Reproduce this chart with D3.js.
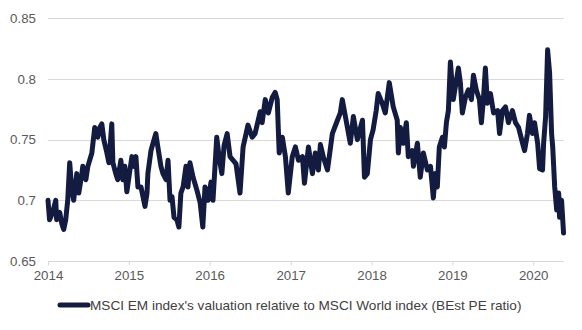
<!DOCTYPE html>
<html>
<head>
<meta charset="utf-8">
<script src="https://cdn.jsdelivr.net/npm/d3@7"></script>
<style>
  html, body { margin: 0; padding: 0; background: #ffffff; }
  svg { display: block; font-family: "Liberation Sans", Arial, sans-serif; }
</style>
</head>
<body>
<svg id="chart" width="582" height="330"></svg>
<script>
const seriesName = "MSCI EM index's valuation relative to MSCI World index (BEst PE ratio)";
const dates = [
  "2014-01-01","2014-01-08","2014-01-22","2014-02-05","2014-02-09","2014-02-23","2014-03-04","2014-03-13","2014-03-22","2014-03-31",
  "2014-04-09","2014-04-18","2014-04-27","2014-05-11","2014-05-20","2014-06-03","2014-06-07","2014-06-21","2014-06-30","2014-07-18",
  "2014-07-31","2014-08-14","2014-08-23","2014-09-01","2014-09-10","2014-09-24","2014-10-03","2014-10-16","2014-10-21","2014-11-03",
  "2014-11-12","2014-11-26","2014-12-05","2014-12-14","2014-12-23","2015-01-06","2015-01-15","2015-01-24","2015-02-02","2015-02-11",
  "2015-02-25","2015-03-06","2015-03-15","2015-03-24","2015-03-28","2015-04-11","2015-04-20","2015-05-03","2015-05-12","2015-05-26",
  "2015-06-04","2015-06-18","2015-06-27","2015-07-06","2015-07-15","2015-07-24","2015-08-06","2015-08-15","2015-08-24","2015-09-03",
  "2015-09-16","2015-09-25","2015-10-04","2015-10-18","2015-11-05","2015-11-19","2015-12-01","2015-12-11","2015-12-25","2016-01-07",
  "2016-01-16","2016-02-02","2016-02-13","2016-02-25","2016-03-06","2016-03-20","2016-04-02","2016-04-16","2016-04-29","2016-05-17",
  "2016-05-31","2016-06-22","2016-07-11","2016-07-24","2016-08-16","2016-08-25","2016-09-08","2016-09-22","2016-10-10","2016-10-23",
  "2016-11-01","2016-11-10","2016-11-24","2016-12-08","2016-12-21","2017-01-08","2017-01-22","2017-02-05","2017-02-23","2017-03-04",
  "2017-03-22","2017-04-09","2017-04-22","2017-05-06","2017-05-15","2017-05-28","2017-06-16","2017-07-08","2017-07-31","2017-08-13",
  "2017-08-22","2017-09-05","2017-09-27","2017-10-11","2017-10-29","2017-11-12","2017-11-21","2017-11-30","2017-12-13","2017-12-27",
  "2018-01-08","2018-01-22","2018-01-31","2018-02-18","2018-03-04","2018-03-22","2018-04-09","2018-04-27","2018-05-02","2018-05-11",
  "2018-05-24","2018-06-07","2018-06-16","2018-07-04","2018-07-09","2018-07-27","2018-08-09","2018-08-23","2018-09-10","2018-09-24",
  "2018-10-07","2018-10-16","2018-10-25","2018-11-03","2018-11-17","2018-11-26","2018-12-05","2018-12-14","2018-12-23","2019-01-05",
  "2019-01-14","2019-01-28","2019-02-06","2019-02-15","2019-03-01","2019-03-14","2019-03-28","2019-04-06","2019-04-19","2019-05-03",
  "2019-05-12","2019-05-21","2019-05-30","2019-06-08","2019-06-22","2019-07-06","2019-07-24","2019-08-02","2019-08-15","2019-08-29",
  "2019-09-11","2019-09-29","2019-10-13","2019-10-27","2019-11-14","2019-11-23","2019-12-06","2019-12-15","2019-12-29","2020-01-07",
  "2020-01-21","2020-01-30","2020-02-12","2020-02-17","2020-02-26","2020-03-06","2020-03-15","2020-03-24","2020-03-29","2020-04-07",
  "2020-04-16","2020-04-25","2020-04-29","2020-05-08","2020-05-17"
];
const values = [
  0.700,0.684,0.690,0.700,0.684,0.690,0.681,0.676,0.684,0.700,
  0.731,0.709,0.700,0.722,0.706,0.722,0.728,0.717,0.728,0.739,
  0.760,0.752,0.760,0.763,0.750,0.739,0.731,0.763,0.731,0.722,
  0.717,0.733,0.717,0.728,0.707,0.725,0.736,0.728,0.736,0.711,
  0.711,0.703,0.695,0.706,0.722,0.741,0.747,0.755,0.744,0.728,
  0.722,0.717,0.733,0.700,0.703,0.686,0.684,0.678,0.706,0.711,
  0.728,0.711,0.731,0.719,0.708,0.698,0.678,0.711,0.700,0.715,
  0.700,0.752,0.735,0.722,0.745,0.755,0.736,0.733,0.730,0.706,
  0.744,0.762,0.752,0.755,0.773,0.764,0.783,0.772,0.785,0.789,
  0.783,0.739,0.752,0.736,0.706,0.736,0.744,0.733,0.736,0.714,
  0.744,0.722,0.739,0.725,0.746,0.736,0.725,0.755,0.766,0.772,
  0.783,0.769,0.747,0.769,0.750,0.760,0.766,0.719,0.722,0.750,
  0.758,0.774,0.788,0.780,0.772,0.797,0.777,0.766,0.739,0.760,
  0.747,0.764,0.736,0.741,0.728,0.747,0.719,0.739,0.725,0.728,
  0.702,0.722,0.711,0.744,0.752,0.744,0.764,0.774,0.814,0.783,
  0.793,0.809,0.797,0.772,0.785,0.791,0.783,0.803,0.791,0.783,
  0.764,0.783,0.809,0.780,0.788,0.772,0.774,0.755,0.774,0.777,
  0.764,0.774,0.764,0.760,0.747,0.741,0.755,0.770,0.755,0.764,
  0.747,0.726,0.725,0.747,0.769,0.824,0.805,0.755,0.744,0.711,
  0.692,0.706,0.686,0.700,0.673
];
const yTicks = [0.65, 0.7, 0.75, 0.8, 0.85];
const yTickLabels = ["0.65", "0.7", "0.75", "0.8", "0.85"];
const xTickYears = ["2014", "2015", "2016", "2017", "2018", "2019", "2020"];

const parse = d3.timeParse("%Y-%m-%d");
const data = dates.map((d, i) => ({ date: parse(d), value: values[i] }));

const svg = d3.select("#chart");
const mLeft = 48, mRight = 564, mTop = 18.3, mBottom = 261;
const fontFam = "'Liberation Sans', Arial, sans-serif";

const x = d3.scaleTime()
  .domain([parse("2014-01-01"), parse("2020-05-19")])
  .range([mLeft, mRight]);
const y = d3.scaleLinear().domain([0.65, 0.85]).range([mBottom, mTop]);

// gridlines
svg.append("g")
  .selectAll("line")
  .data(yTicks.slice(1))
  .join("line")
  .attr("x1", mLeft).attr("x2", mRight)
  .attr("y1", d => Math.round(y(d)) + 0.5).attr("y2", d => Math.round(y(d)) + 0.5)
  .attr("stroke", "#d9d9d9").attr("stroke-width", 1);

// y axis labels
const yAxis = d3.axisLeft(y).tickValues(yTicks).tickFormat((d, i) => yTickLabels[i]).tickSize(0).tickPadding(12);
const gy = svg.append("g").attr("transform", `translate(${mLeft},0)`).call(yAxis);
gy.select(".domain").remove();
gy.selectAll("text").attr("fill", "#595959").style("font-size", "13.3px").style("font-family", fontFam);

// x axis
const xTickDates = xTickYears.map(yv => parse(yv + "-01-01"));
const xAxis = d3.axisBottom(x).tickValues(xTickDates).tickFormat((d, i) => xTickYears[i]).tickSize(4).tickPadding(5).tickSizeOuter(0);
const gx = svg.append("g").attr("transform", `translate(0,${Math.round(mBottom) + 0.5})`).call(xAxis);
gx.select(".domain").attr("stroke", "#d9d9d9").attr("d", `M${mLeft},0H${mRight}`);
gx.selectAll(".tick line").attr("stroke", "#d9d9d9");
gx.selectAll("text").attr("fill", "#595959").style("font-size", "13.3px").style("font-family", fontFam);

// line
const line = d3.line().x(d => x(d.date)).y(d => y(d.value)).curve(d3.curveLinear);
svg.append("path")
  .datum(data)
  .attr("d", line)
  .attr("fill", "none")
  .attr("stroke", "#131c40")
  .attr("stroke-width", 5)
  .attr("stroke-linejoin", "round")
  .attr("stroke-linecap", "round");

// legend
const lg = svg.append("g").attr("transform", "translate(0,305)");
lg.append("line").attr("x1", 60).attr("x2", 88).attr("y1", 0).attr("y2", 0)
  .attr("stroke", "#131c40").attr("stroke-width", 5).attr("stroke-linecap", "round");
lg.append("text").attr("x", 90).attr("y", 0).attr("dy", "0.35em")
  .attr("fill", "#404040").style("font-size", "13.6px").style("font-family", fontFam)
  .text(seriesName);
</script>
</body>
</html>
